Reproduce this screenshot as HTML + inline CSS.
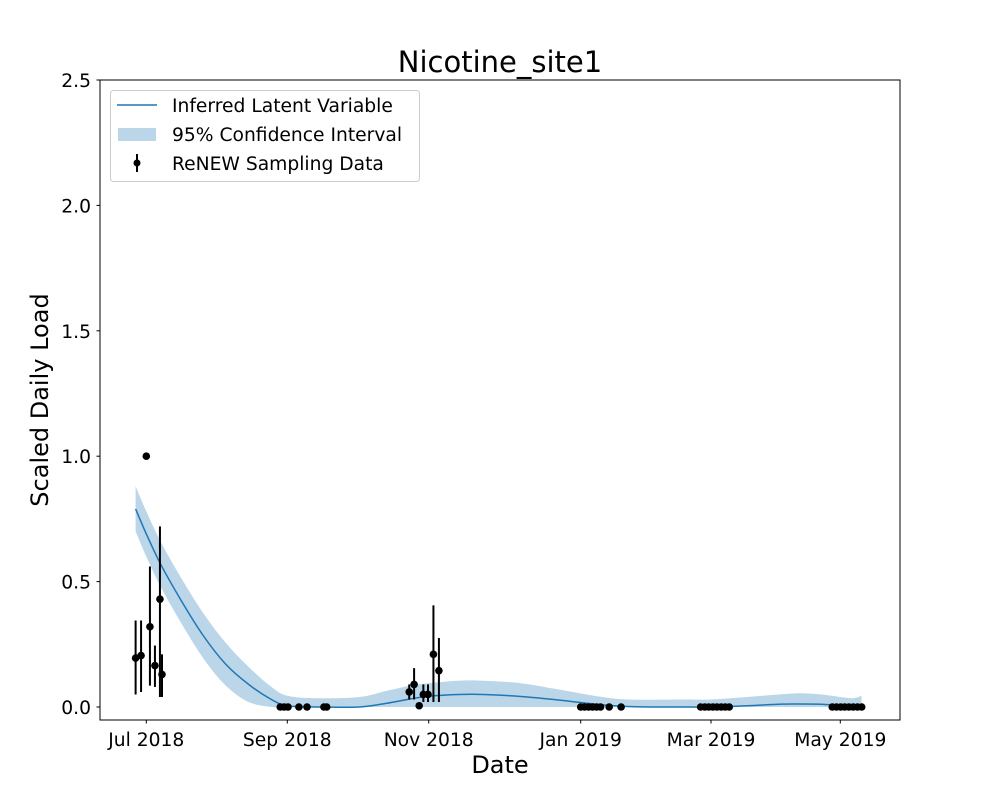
<!DOCTYPE html>
<html><head><meta charset="utf-8"><style>
body{margin:0;background:#fff}
svg text{font-family:"DejaVu Sans","Liberation Sans",sans-serif;fill:#000}
</style></head><body>
<svg id="chart" width="1000" height="800" viewBox="0 0 1000 800" xmlns="http://www.w3.org/2000/svg">
<rect width="1000" height="800" fill="#fff"/>
<text x="500" y="72" font-size="29" text-anchor="middle">Nicotine_site1</text>
<g id="band"></g>
<g id="line"></g>
<g id="pts"></g>
<rect x="100" y="80" width="800" height="640" fill="none" stroke="#000" stroke-width="1"/>
<g id="yt"></g>
<g id="xt"></g>
<text x="500" y="773" font-size="24" text-anchor="middle">Date</text>
<text transform="translate(48,400) rotate(-90)" font-size="24" text-anchor="middle">Scaled Daily Load</text>
<g>
<rect x="110.5" y="90.5" width="309" height="91" rx="3" fill="#fff" fill-opacity="0.8" stroke="#ccc"/>
<line x1="117" y1="105" x2="157" y2="105" stroke="#1f77b4" stroke-width="1.5"/>
<text x="172" y="112" font-size="18.7">Inferred Latent Variable</text>
<rect x="118" y="128" width="38" height="13" fill="#1f77b4" fill-opacity="0.3"/>
<text x="172" y="141" font-size="18.7">95% Confidence Interval</text>
<line x1="137" y1="154" x2="137" y2="172" stroke="#000" stroke-width="2"/>
<circle cx="137" cy="163" r="3.5" fill="#000"/>
<text x="172" y="170" font-size="18.7">ReNEW Sampling Data</text>
</g>
</svg>
<script>
// days since 2018-07-01
const curveDays=[-4.7,0,6,15,25,35,45,55,62,75,93,105,115,123,135,145,160,175,190,205,230,243,260,275,285,295,304,310,314];
const curveMean=[.79,.69,.575,.43,.285,.17,.09,.03,.005,0,0,.015,.032,.043,.05,.05,.042,.028,.012,.002,0,0,.005,.011,.012,.011,.007,.006,.008];
const curveLower=[.70,.60,.485,.34,.195,.085,.02,0,0,0,0,0,0,0,0,0,0,0,0,0,0,0,0,0,0,0,0,0,0];
const curveUpper=[.88,.78,.665,.52,.375,.255,.16,.08,.045,.035,.04,.065,.085,.095,.105,.105,.095,.07,.045,.03,.03,.03,.04,.05,.055,.05,.04,.035,.045];
const ptDays=[-4.7,-2.3,0,1.6,3.8,6,6.9,58.9,60.6,62.3,67,70.5,77.8,79,114.6,116.7,118.9,120.7,122.7,124.9,127.1,184,185.8,187.6,189.4,191.2,193,196.9,202.3,238.3,240.2,242,243.9,245.8,247.8,249.7,251.6,300.2,302.2,304.2,306.1,308.1,310.1,312.1,314.1];
const ptVals=[.195,.205,1.0,.32,.165,.43,.13,0,0,0,0,0,0,0,.06,.09,.005,.05,.05,.21,.145,0,0,0,0,0,0,0,0,0,0,0,0,0,0,0,0,0,0,0,0,0,0,0,0];
const ptLo=[.05,.06,null,.085,.08,.04,.04,null,null,null,null,null,null,null,.03,.03,null,.02,.02,.02,.02,null,null,null,null,null,null,null,null,null,null,null,null,null,null,null,null,null,null,null,null,null,null,null,null];
const ptHi=[.345,.345,null,.56,.245,.72,.21,null,null,null,null,null,null,null,.09,.155,null,.09,.09,.405,.275,null,null,null,null,null,null,null,null,null,null,null,null,null,null,null,null,null,null,null,null,null,null,null,null];
const tickDays=[0,62,123,184,243,304];
const tickLabels=["Jul 2018","Sep 2018","Nov 2018","Jan 2019","Mar 2019","May 2019"];
const yTicks=[0,0.5,1.0,1.5,2.0,2.5];
const yTickLabels=["0.0","0.5","1.0","1.5","2.0","2.5"];

const NS="http://www.w3.org/2000/svg";
const anchorPx=[146.3,287.3,428.7,580.7,711,840.3];
function X(d){
  let i=0;
  if(d<=tickDays[0])i=0;else if(d>=tickDays[4])i=4;else{while(d>tickDays[i+1])i++;}
  const t=(d-tickDays[i])/(tickDays[i+1]-tickDays[i]);
  return anchorPx[i]+t*(anchorPx[i+1]-anchorPx[i]);
}
function Y(v){return 707-v*250.8;}
function mk(tag,attrs,parent){const e=document.createElementNS(NS,tag);for(const k in attrs)e.setAttribute(k,attrs[k]);parent.appendChild(e);return e;}
function smooth(pts,start){
  let s=start?("M"+pts[0][0].toFixed(1)+","+pts[0][1].toFixed(1)):("L"+pts[0][0].toFixed(1)+","+pts[0][1].toFixed(1));
  for(let i=0;i<pts.length-1;i++){
    const p0=pts[Math.max(0,i-1)],p1=pts[i],p2=pts[i+1],p3=pts[Math.min(pts.length-1,i+2)];
    const c1=[p1[0]+(p2[0]-p0[0])/6,p1[1]+(p2[1]-p0[1])/6];
    const c2=[p2[0]-(p3[0]-p1[0])/6,p2[1]-(p3[1]-p1[1])/6];
    s+="C"+c1.map(v=>v.toFixed(1)).join(",")+" "+c2.map(v=>v.toFixed(1)).join(",")+" "+p2.map(v=>v.toFixed(1)).join(",");
  }
  return s;
}
const upPts=curveDays.map((c,i)=>[X(c),Y(curveUpper[i])]);
const loPts=curveDays.map((c,i)=>[X(c),Math.min(707,Y(curveLower[i]))]).reverse();
const band=mk("path",{d:smooth(upPts,true)+smooth(loPts,false)+"Z",fill:"#1f77b4","fill-opacity":"0.3"},document.getElementById("band"));



const mPts=curveDays.map((c,i)=>[X(c),Y(curveMean[i])]);
const line=mk("path",{d:smooth(mPts,true),fill:"none",stroke:"#1f77b4","stroke-width":"1.5"},document.getElementById("line"));



const pg=document.getElementById("pts");
ptDays.forEach((pd,i)=>{
  const x=X(pd);
  if(ptLo[i]!==null){
    const eb=mk("line",{x1:x,x2:x,y1:Y(ptLo[i]),y2:Y(ptHi[i]),stroke:"#000","stroke-width":"2"},pg);
    
    
  }
  const c=mk("circle",{cx:x,cy:Y(ptVals[i]),r:"3.8",fill:"#000"},pg);
  
  
});

const yg=document.getElementById("yt");
yTicks.forEach((v,i)=>{
  const y=Y(v);
  const t=mk("line",{x1:96.5,x2:100,y1:y,y2:y,stroke:"#000"},yg);
  
  
  const l=mk("text",{x:91,y:y+7,"font-size":"18.7","text-anchor":"end"},yg);
  l.textContent=yTickLabels[i];
  
  
});
const xg=document.getElementById("xt");
tickDays.forEach((td,i)=>{
  const x=X(td);
  const t=mk("line",{x1:x,x2:x,y1:720,y2:723.5,stroke:"#000"},xg);
  
  
  const l=mk("text",{x:x,y:746,"font-size":"18.7","text-anchor":"middle"},xg);
  l.textContent=tickLabels[i];
  
  
});
</script>
</body></html>
